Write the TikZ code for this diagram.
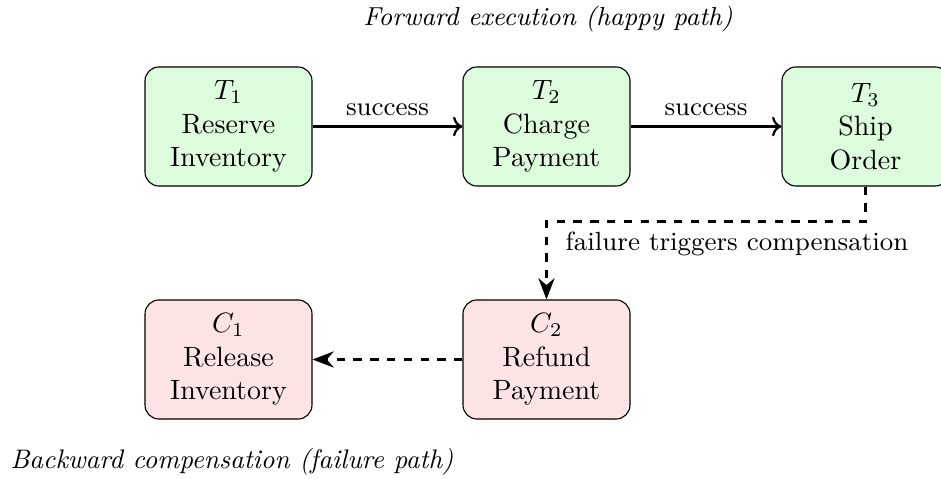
\documentclass[tikz,border=0pt]{standalone}
\usetikzlibrary{arrows.meta}
\definecolor{fwdfill}{RGB}{221,252,221}
\definecolor{cmpfill}{RGB}{253,228,228}
\begin{document}
\begin{tikzpicture}[x=0.35778pt, y=-0.35778pt,
  stepbox/.style={draw, rounded corners=5pt, align=center,
    minimum width=59.75pt, minimum height=42.6pt, inner sep=2pt},
  fwd/.style={stepbox, fill=fwdfill},
  cmp/.style={stepbox, fill=cmpfill},
  okarrow/.style={->, thick},
  failarrow/.style={-{Stealth[length=7.6pt, width=5.8pt]}, thick, dashed},
  lbl/.style={font=\fontsize{9.4pt}{11pt}\selectfont},
  caption/.style={font=\fontsize{9.3pt}{11pt}\selectfont\itshape}]
\useasboundingbox (0,0) rectangle (941,479);

% forward transactions
\node[fwd] (T1) at (228.5,126.5) {$T_1$\\Reserve\\Inventory};
\node[fwd] (T2) at (546.5,126.5) {$T_2$\\Charge\\Payment};
\node[fwd] (T3) at (865.5,126.5) {$T_3$\\Ship\\Order};

% compensating actions
\node[cmp] (C1) at (228.5,359.5) {$C_1$\\Release\\Inventory};
\node[cmp] (C2) at (546.5,359.5) {$C_2$\\Refund\\Payment};

% happy path
\draw[okarrow] (T1) -- node[above, lbl] {success} (T2);
\draw[okarrow] (T2) -- node[above, lbl] {success} (T3);

% failure and compensation
\draw[failarrow] (T3.south) -- ++(0,35) coordinate (turn) -| (C2.north);
\node[lbl] (ftxt) at (737,244) {failure triggers compensation};
\draw[failarrow] (C2) -- (C1);

% captions
\node[caption] (topcap) at (548,19) {Forward execution (happy path)};
\node[caption, font=\fontsize{9.6pt}{11pt}\selectfont\itshape, anchor=west, inner sep=0pt] (botcap) at (10,462) {Backward compensation (failure path)};
\end{tikzpicture}
\end{document}
